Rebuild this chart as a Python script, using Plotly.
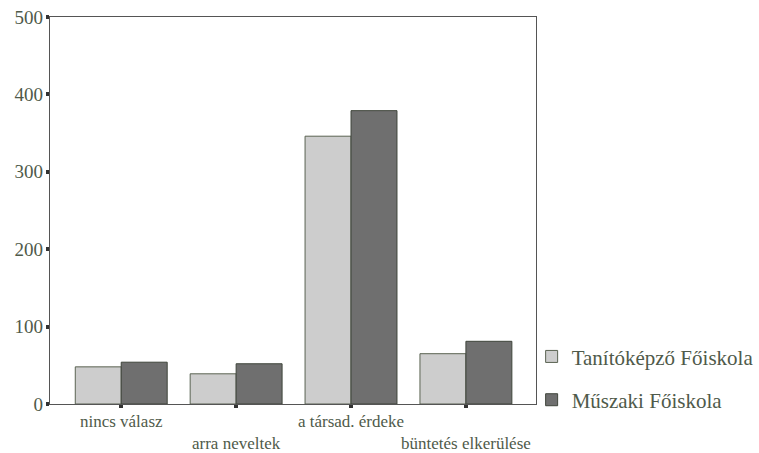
import plotly.graph_objects as go

categories = ["nincs válasz", "arra neveltek", "a társad. érdeke", "büntetés elkerülése"]
series_names = ["Tanítóképző Főiskola", "Műszaki Főiskola"]
tanito = [48, 39, 346, 65]
muszaki = [54, 52, 379, 81]
y_ticks = [0, 100, 200, 300, 400, 500]

tick_text = [("<br>" + c) if i % 2 else c for i, c in enumerate(categories)]

font_family = "Liberation Serif, Times New Roman, DejaVu Serif, serif"
font_color = "#4f5a4a"
fig = go.Figure()
fig.add_trace(go.Bar(x=categories, y=tanito, name=series_names[0], legendgroup="a",
                     marker=dict(color="#cdcdcd", line=dict(color="#5a6352", width=1))))
fig.add_trace(go.Bar(x=categories, y=muszaki, name=series_names[1], legendgroup="b",
                     marker=dict(color="#6f6f6f", line=dict(color="#3f453b", width=1))))

fig.update_layout(
    width=759, height=453,
    margin=dict(l=50, r=223, t=17, b=49, autoexpand=False),
    paper_bgcolor="white", plot_bgcolor="white",
    barmode="group", bargap=0.2, bargroupgap=0,
    font=dict(family=font_family, size=18, color=font_color),
    showlegend=True,
    legend=dict(x=0.991, y=0.175, xanchor="left", yanchor="top",
                font=dict(family=font_family, size=21, color=font_color), tracegroupgap=13,
                bgcolor="rgba(0,0,0,0)", itemwidth=30),
    xaxis=dict(type="category", range=[-0.62, 3.61], tickvals=categories, ticktext=tick_text,
               tickangle=0, automargin=False, ticklabelstandoff=-2, ticklabeloverflow="allow",
               showline=True, linecolor="#555", linewidth=1.2, mirror=True,
               ticks="outside", ticklen=3, tickwidth=4, tickcolor="#333",
               showgrid=False, tickfont=dict(family=font_family, size=17, color=font_color)),
    yaxis=dict(range=[0, 500], tickvals=y_ticks, showline=True, linecolor="#555", linewidth=1.2,
               automargin=False, ticklabelstandoff=-1, ticklabeloverflow="allow",
               mirror=True, ticks="outside", ticklen=3, tickwidth=4, tickcolor="#333",
               showgrid=False, zeroline=False, tickfont=dict(family=font_family, size=19, color=font_color)),
)
fig.write_html("out.html", config={"displayModeBar": False},
               post_script="document.body.style.margin='0px';")
